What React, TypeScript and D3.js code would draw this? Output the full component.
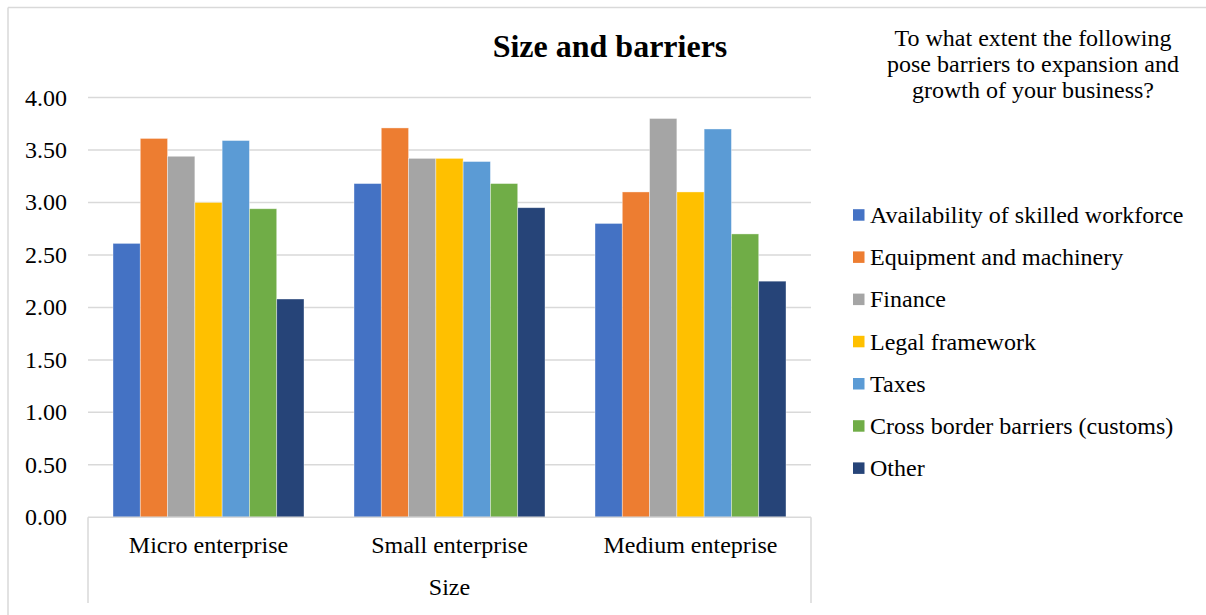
import React from "react";
import * as d3 from "d3";

const categories = ["Micro enterprise", "Small enterprise", "Medium enteprise"];
const seriesNames = [
  "Availability of skilled workforce",
  "Equipment and machinery",
  "Finance",
  "Legal framework",
  "Taxes",
  "Cross border barriers (customs)",
  "Other",
];
const seriesColors = ["#4472C4", "#ED7D31", "#A5A5A5", "#FFC000", "#5B9BD5", "#70AD47", "#264478"];
// values[seriesIndex][categoryIndex]
const values = [
  [2.61, 3.18, 2.8],
  [3.61, 3.71, 3.1],
  [3.44, 3.42, 3.8],
  [3.0, 3.42, 3.1],
  [3.59, 3.39, 3.7],
  [2.94, 3.18, 2.7],
  [2.08, 2.95, 2.25],
];
const yTicks = [0, 0.5, 1, 1.5, 2, 2.5, 3, 3.5, 4];
const titleText = "Size and barriers";
const axisTitle = "Size";
const questionLines = [
  "To what extent the following",
  "pose barriers to expansion and",
  "growth of your business?",
];

const W = 1206;
const H = 615;
const serif: React.CSSProperties = { fontFamily: '"Liberation Serif", "Times New Roman", Times, serif' };

export default function App() {
  const plotLeft = 88;
  const plotRight = 811;
  const plotTop = 97.5;
  const plotBottom = 517.3;

  const x0 = d3.scaleBand<string>().domain(categories).range([plotLeft, plotRight]).paddingInner(0).paddingOuter(0);
  const barGroupPad = 25;
  const x1 = d3
    .scaleBand<number>()
    .domain(d3.range(seriesNames.length))
    .range([barGroupPad, x0.bandwidth() - barGroupPad])
    .padding(0);
  const y = d3.scaleLinear().domain([0, 4]).range([plotBottom, plotTop]);

  const legendX = 853;
  const legendY0 = 215;
  const legendStep = 42.2;

  return (
    <svg width={W} height={H} style={{ position: "absolute", left: 0, top: 0, background: "#fff" }}>
      <rect x={0} y={0} width={W} height={H} fill="#fff" />
      {/* chart frame */}
      <line x1={8} y1={7.5} x2={W} y2={7.5} stroke="#d9d9d9" strokeWidth={1.5} />
      <line x1={8} y1={7.5} x2={8} y2={H} stroke="#d9d9d9" strokeWidth={1.5} />

      {/* gridlines */}
      {yTicks.slice(1).map((t) => (
        <line key={t} x1={plotLeft} x2={plotRight} y1={y(t)} y2={y(t)} stroke="#d9d9d9" strokeWidth={1.5} />
      ))}

      {/* y tick labels */}
      {yTicks.map((t) => (
        <text key={t} x={67} y={y(t) + 8} textAnchor="end" fontSize={24} fill="#000" style={serif}>
          {d3.format(".2f")(t)}
        </text>
      ))}

      {/* bars */}
      {categories.map((c, ci) => (
        <g key={c} transform={`translate(${x0(c)},0)`}>
          {seriesNames.map((s, si) => (
            <rect
              key={s}
              x={x1(si)}
              width={x1.bandwidth()}
              y={y(values[si][ci])}
              height={y(0) - y(values[si][ci])}
              fill={seriesColors[si]}
              stroke="#ffffff"
              strokeOpacity={0.5}
              strokeWidth={0.75}
            />
          ))}
        </g>
      ))}

      {/* category axis */}
      <line x1={plotLeft} x2={plotRight} y1={plotBottom} y2={plotBottom} stroke="#d9d9d9" strokeWidth={1.5} />
      <line x1={plotLeft} x2={plotLeft} y1={plotBottom} y2={603} stroke="#d9d9d9" strokeWidth={1.5} />
      <line x1={plotRight} x2={plotRight} y1={plotBottom} y2={603} stroke="#d9d9d9" strokeWidth={1.5} />
      {categories.map((c) => (
        <text
          key={c}
          x={(x0(c) ?? 0) + x0.bandwidth() / 2}
          y={553}
          textAnchor="middle"
          fontSize={24}
          fill="#000"
          style={serif}
        >
          {c}
        </text>
      ))}
      <text x={(plotLeft + plotRight) / 2} y={595} textAnchor="middle" fontSize={24} fill="#000" style={serif}>
        {axisTitle}
      </text>

      {/* title */}
      <text x={610} y={57} textAnchor="middle" fontSize={32} fontWeight="bold" fill="#000" style={serif}>
        {titleText}
      </text>

      {/* question text */}
      {questionLines.map((l, i) => (
        <text key={i} x={1033} y={46 + i * 26} textAnchor="middle" fontSize={24} fill="#000" style={serif}>
          {l}
        </text>
      ))}

      {/* legend */}
      {seriesNames.map((s, i) => (
        <g key={s} transform={`translate(${legendX},${legendY0 + i * legendStep})`}>
          <rect x={0} y={-5.8} width={11.5} height={11.5} fill={seriesColors[i]} />
          <text x={17} y={8} fontSize={24} fill="#000" style={serif}>
            {s}
          </text>
        </g>
      ))}
    </svg>
  );
}
